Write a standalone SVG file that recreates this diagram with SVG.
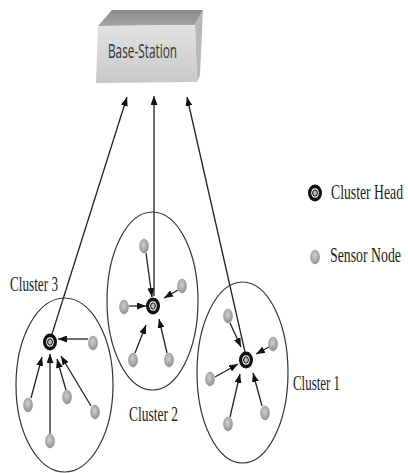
<svg xmlns="http://www.w3.org/2000/svg" width="408" height="473" viewBox="0 0 408 473">
  <defs>
    <marker id="arrow" markerUnits="userSpaceOnUse" markerWidth="9" markerHeight="7" refX="9" refY="3.5" orient="auto">
      <path d="M0,0 L9,3.5 L0,7 Z" fill="#111"/>
    </marker>
    <radialGradient id="nodeFill" cx="0.45" cy="0.4" r="0.6">
      <stop offset="0" stop-color="#cfcfcf"/>
      <stop offset="0.7" stop-color="#a6a6a6"/>
      <stop offset="1" stop-color="#8a8a8a"/>
    </radialGradient>
    <linearGradient id="frontFill" x1="0" y1="0" x2="0" y2="1">
      <stop offset="0" stop-color="#e2e2e2"/>
      <stop offset="1" stop-color="#c8c8c8"/>
    </linearGradient>
    <linearGradient id="topFill" x1="0" y1="0" x2="0" y2="1">
      <stop offset="0" stop-color="#8a8a8a"/>
      <stop offset="1" stop-color="#a4a4a4"/>
    </linearGradient>
    <!-- reusable symbols -->
    <g id="sensor">
      <ellipse rx="4.5" ry="7" fill="url(#nodeFill)" stroke="#9a9a9a" stroke-width="0.6"/>
    </g>
    <g id="head">
      <ellipse rx="7" ry="8.5" fill="#111"/>
      <ellipse rx="3.8" ry="4.8" fill="#fff"/>
      <ellipse rx="2.4" ry="3.2" fill="#bbb" stroke="#111" stroke-width="1"/>
    </g>
  </defs>
  <style>
    .ring { fill: none; stroke: #333; stroke-width: 1.2; }
    .link { stroke: #222; stroke-width: 1.3; fill: none; marker-end: url(#arrow); }
    .label { font-family: "Liberation Serif", "Times New Roman", serif; font-size: 14.5px; fill: #222; }
    .bs { font-family: "Open Sans", "Liberation Sans", sans-serif; font-size: 20px; fill: #333; }
  </style>

  <rect width="408" height="473" fill="#fff"/>

  <!-- base station block -->
  <g id="base-station">
    <polygon points="98,26 112,10 203,10 195,25" fill="url(#topFill)"/>
    <polygon points="195,25 203,10 200,75 197,82" fill="#b8b8b8"/>
    <polygon points="98,26 195,25 197,82 96,83" fill="url(#frontFill)"/>
    <text class="bs" x="108" y="58" textLength="69" lengthAdjust="spacingAndGlyphs">Base-Station</text>
  </g>

  <!-- cluster boundaries; labels are set in a tall, narrow serif -->
  <g id="cluster-3">
    <ellipse class="ring" cx="64.5" cy="385" rx="48.5" ry="87"/>
    <text class="label" transform="translate(10,291) scale(1,1.5)" textLength="48" lengthAdjust="spacingAndGlyphs">Cluster 3</text>
  </g>
  <g id="cluster-2">
    <ellipse class="ring" cx="152.5" cy="301" rx="45.5" ry="89"/>
    <text class="label" transform="translate(129,421) scale(1,1.5)" textLength="49" lengthAdjust="spacingAndGlyphs">Cluster 2</text>
  </g>
  <g id="cluster-1">
    <ellipse class="ring" cx="242.5" cy="372.5" rx="45.5" ry="90.5"/>
    <text class="label" transform="translate(293,390) scale(1,1.5)" textLength="47" lengthAdjust="spacingAndGlyphs">Cluster 1</text>
  </g>

  <!-- connectors -->
  <g id="connectors">
    <!-- cluster heads to base station -->
    <line class="link" x1="52" y1="334" x2="127" y2="97"/>
    <line class="link" x1="154" y1="296" x2="154" y2="96"/>
    <line class="link" x1="245" y1="352" x2="187" y2="97"/>
    <!-- cluster 3 members -->
    <line class="link" x1="88" y1="339" x2="58" y2="339"/>
    <line class="link" x1="31" y1="398" x2="42" y2="357"/>
    <line class="link" x1="50" y1="434" x2="50" y2="354"/>
    <line class="link" x1="66" y1="390" x2="57" y2="359"/>
    <line class="link" x1="91" y1="406" x2="61" y2="356"/>
    <!-- cluster 2 members -->
    <line class="link" x1="146" y1="253" x2="152" y2="297"/>
    <line class="link" x1="178" y1="290" x2="164" y2="298"/>
    <line class="link" x1="129" y1="306" x2="146" y2="306"/>
    <line class="link" x1="135" y1="353" x2="146" y2="325"/>
    <line class="link" x1="167" y1="353" x2="159" y2="319"/>
    <!-- cluster 1 members -->
    <line class="link" x1="230" y1="323" x2="241" y2="347"/>
    <line class="link" x1="269" y1="347" x2="256" y2="354"/>
    <line class="link" x1="215" y1="377" x2="238" y2="364"/>
    <line class="link" x1="230" y1="417" x2="240" y2="374"/>
    <line class="link" x1="262" y1="406" x2="253" y2="373"/>
  </g>

  <!-- sensor nodes -->
  <g id="sensors-cluster-3">
    <use href="#sensor" x="93" y="343"/>
    <use href="#sensor" x="28" y="405"/>
    <use href="#sensor" x="67" y="397"/>
    <use href="#sensor" x="95" y="412"/>
    <use href="#sensor" x="50" y="441"/>
  </g>
  <g id="sensors-cluster-2">
    <use href="#sensor" x="144" y="246"/>
    <use href="#sensor" x="182" y="286"/>
    <use href="#sensor" x="124" y="307"/>
    <use href="#sensor" x="133" y="360"/>
    <use href="#sensor" x="169" y="360"/>
  </g>
  <g id="sensors-cluster-1">
    <use href="#sensor" x="228" y="316"/>
    <use href="#sensor" x="273" y="344"/>
    <use href="#sensor" x="210" y="379"/>
    <use href="#sensor" x="228" y="424"/>
    <use href="#sensor" x="265" y="413"/>
  </g>

  <!-- cluster heads -->
  <g id="head-3"><use href="#head" x="50" y="342"/></g>
  <g id="head-2"><use href="#head" x="153" y="306"/></g>
  <g id="head-1"><use href="#head" x="246" y="360"/></g>

  <!-- legend -->
  <g id="legend-head">
    <use href="#head" x="315" y="193"/>
    <text class="label" transform="translate(331,199) scale(1,1.5)" textLength="72" lengthAdjust="spacingAndGlyphs">Cluster Head</text>
  </g>
  <g id="legend-sensor">
    <use href="#sensor" x="315" y="257"/>
    <text class="label" transform="translate(330,262) scale(1,1.5)" textLength="71" lengthAdjust="spacingAndGlyphs">Sensor Node</text>
  </g>
</svg>
